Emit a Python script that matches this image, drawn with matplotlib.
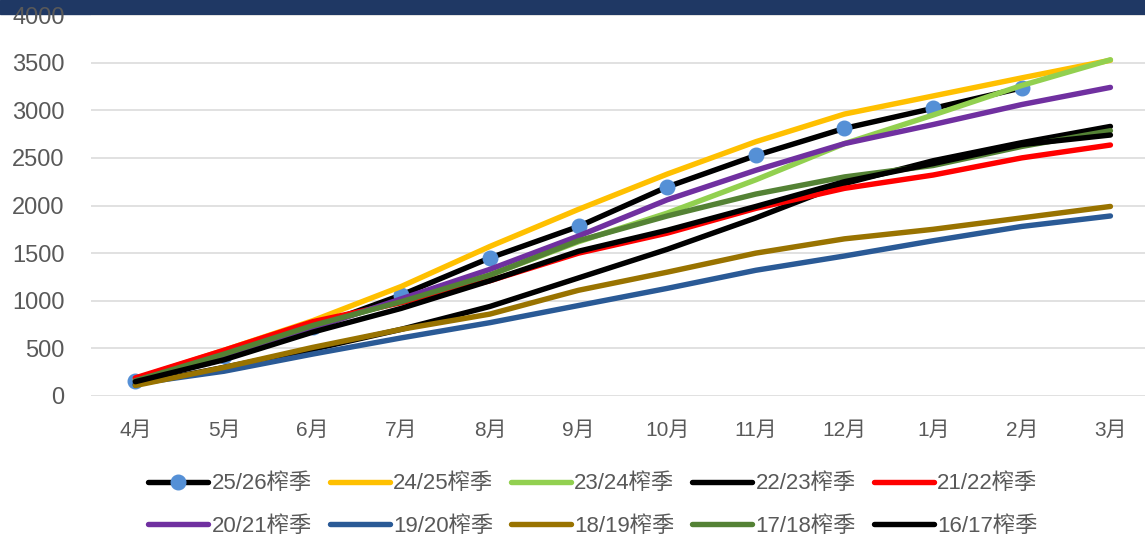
import matplotlib
matplotlib.use("Agg")
import matplotlib.pyplot as plt
from matplotlib.patches import Rectangle

plt.rcParams['font.family'] = ['Liberation Sans', 'Noto Sans CJK SC']

months = ["4月", "5月", "6月", "7月", "8月", "9月", "10月", "11月", "12月", "1月", "2月", "3月"]

s2526 = [160, 420, 720, 1060, 1450, 1780, 2195, 2525, 2810, 3020, 3235, None]
s2425 = [180, 480, 790, 1150, 1570, 1960, 2330, 2670, 2960, 3150, 3340, 3525]
s2324 = [170, 430, 730, 1000, 1270, 1620, 1920, 2270, 2650, 2950, 3260, 3530]
s2223 = [120, 300, 490, 700, 940, 1240, 1540, 1870, 2230, 2470, 2660, 2830]
s2122 = [190, 480, 780, 980, 1210, 1500, 1710, 1970, 2180, 2320, 2500, 2635]
s2021 = [160, 420, 710, 1020, 1330, 1680, 2060, 2370, 2650, 2850, 3060, 3240]
s1920 = [130, 260, 440, 610, 770, 950, 1130, 1320, 1470, 1630, 1780, 1890]
s1819 = [110, 300, 510, 700, 860, 1110, 1300, 1500, 1650, 1750, 1870, 1990]
s1718 = [160, 440, 740, 990, 1270, 1630, 1890, 2120, 2300, 2420, 2620, 2785]
s1617 = [150, 380, 670, 920, 1210, 1520, 1740, 1990, 2250, 2440, 2640, 2740]

series = [
    ("25/26榨季", s2526, "#000000"),
    ("24/25榨季", s2425, "#FFC000"),
    ("23/24榨季", s2324, "#92D050"),
    ("22/23榨季", s2223, "#000000"),
    ("21/22榨季", s2122, "#FF0000"),
    ("20/21榨季", s2021, "#7030A0"),
    ("19/20榨季", s1920, "#2A5A96"),
    ("18/19榨季", s1819, "#997300"),
    ("17/18榨季", s1718, "#548235"),
    ("16/17榨季", s1617, "#000000"),
]

fig = plt.figure(figsize=(11.45, 5.38), dpi=100)
ax = fig.add_axes([91 / 1145, 1 - 396 / 538, 1 - 91 / 1145, (396 - 15) / 538])

x = list(range(len(months)))
handles = []
for i, (name, vals, col) in enumerate(series):
    xs = [xi for xi, v in zip(x, vals) if v is not None]
    ys = [v for v in vals if v is not None]
    if i == 0:
        h, = ax.plot(xs, ys, color=col, lw=3.9, marker="o", markersize=10.5,
                     markerfacecolor="#5590D6", markeredgecolor="#5590D6",
                     label=name, solid_capstyle="round")
    else:
        h, = ax.plot(xs, ys, color=col, lw=3.9, label=name, solid_capstyle="round")
    handles.append(h)

ax.set_ylim(0, 4000)
ax.set_yticks(range(0, 4001, 500))
ax.set_xlim(-0.5, 11.39)
ax.set_xticks(x)
ax.set_xticklabels(months)
ax.grid(axis="y", color="#D9D9D9", lw=1.1)
ax.set_axisbelow(True)
for sp in ax.spines.values():
    sp.set_visible(False)
ax.tick_params(axis="y", length=0, pad=19, labelsize=17, labelcolor="#595959")
ax.tick_params(axis="x", length=0, pad=18, labelsize=15, labelcolor="#595959")
for t in ax.get_yticklabels():
    t.set_zorder(10)

# dark band across the top
fig.patches.append(Rectangle((0, 1 - 14 / 538), 1, 14 / 538, transform=fig.transFigure,
                             color="#1F3864", zorder=0))
ax.set_zorder(2)

# legend filled row by row (matplotlib fills by column)
order = [0, 5, 1, 6, 2, 7, 3, 8, 4, 9]
fig.legend([handles[k] for k in order], [series[k][0] for k in order],
           loc="center", bbox_to_anchor=(593 / 1145, 1 - 505 / 538), ncol=5,
           frameon=False, fontsize=16, handlelength=2.7, handletextpad=0.15,
           columnspacing=0.8, labelspacing=0.95, labelcolor="#595959",
           borderpad=0.2)

fig.savefig("out.png", dpi=100)
